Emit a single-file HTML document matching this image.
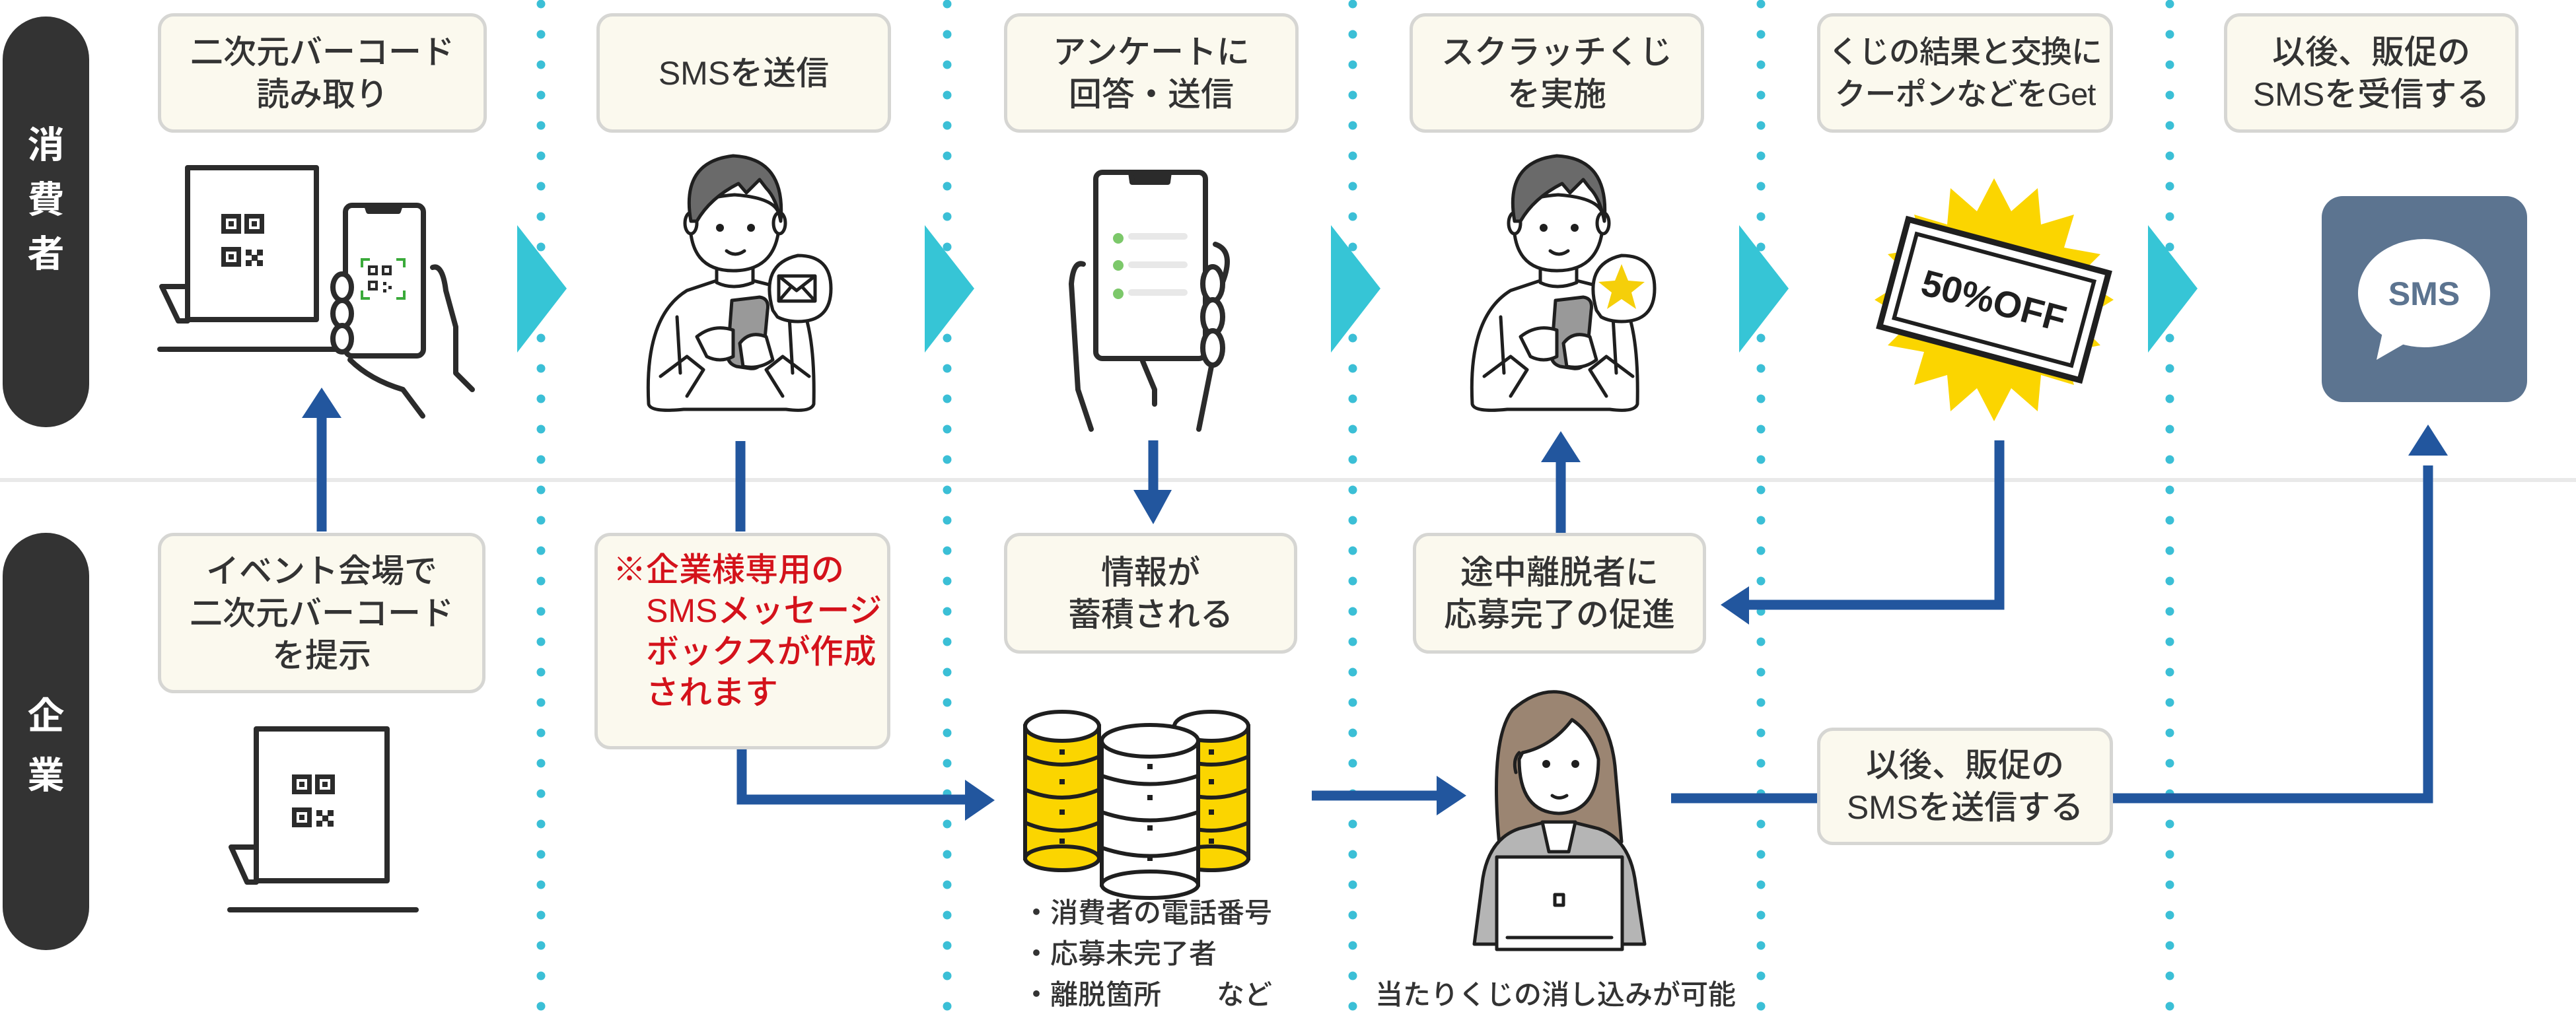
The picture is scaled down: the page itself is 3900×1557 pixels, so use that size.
<!DOCTYPE html>
<html><head><meta charset="utf-8">
<style>
html,body{margin:0;padding:0;background:#fff;}
body{width:3900px;height:1557px;position:relative;overflow:hidden;font-family:"Liberation Sans","Noto Sans CJK JP",sans-serif;}
svg{position:absolute;left:0;top:0;}
.box{position:absolute;box-sizing:border-box;background:#fbf9ee;border:5px solid #d6d6d3;border-radius:24px;display:flex;align-items:center;justify-content:center;text-align:center;font-size:50px;line-height:64px;color:#333;font-weight:500;white-space:nowrap;}
.pilltxt{position:absolute;color:#fff;font-size:56px;font-weight:700;width:131px;text-align:center;left:4px;}
.t{position:absolute;color:#333;font-size:42px;line-height:62px;font-weight:500;white-space:pre;}
</style></head><body>
<svg width="3900" height="1557" viewBox="0 0 3900 1557">
<rect x="0" y="724" width="3900" height="6" fill="#e9e9e9"/>
<g stroke="#3bbfd6" stroke-width="13" stroke-linecap="round" stroke-dasharray="0 46">
<line x1="819" y1="6" x2="819" y2="1557"/>
<line x1="1434" y1="6" x2="1434" y2="1557"/>
<line x1="2048" y1="6" x2="2048" y2="1557"/>
<line x1="2666" y1="6" x2="2666" y2="1557"/>
<line x1="3285" y1="6" x2="3285" y2="1557"/>
</g>
<g fill="#36c5d6">
<polygon points="783,341 783,534 858,437"/>
<polygon points="1400,341 1400,534 1475,437"/>
<polygon points="2015,341 2015,534 2090,437"/>
<polygon points="2633,341 2633,534 2708,437"/>
<polygon points="3252,341 3252,534 3327,437"/>
</g>
<rect x="4" y="25" width="131" height="622" rx="65" fill="#333"/>
<rect x="4" y="807" width="131" height="632" rx="65" fill="#333"/>

<g stroke="#22569e" stroke-width="15" fill="none">
<line x1="487" y1="805" x2="487" y2="625"/>
<line x1="1121" y1="668" x2="1121" y2="805"/>
<polyline points="1123,1129 1123,1211 1470,1211"/>
<line x1="1746" y1="667" x2="1746" y2="750"/>
<line x1="1986" y1="1205" x2="2185" y2="1205"/>
<line x1="2363" y1="807" x2="2363" y2="690"/>
<polyline points="3027,667 3027,916 2640,916"/>
<polyline points="2530,1209 3676,1209 3676,705"/>
</g>
<g fill="#22569e">
<polygon points="457,633 517,633 487,587"/>
<polygon points="1461,1181 1461,1243 1506,1212"/>
<polygon points="1716,742 1774,742 1746,794"/>
<polygon points="2175,1175 2175,1235 2220,1205"/>
<polygon points="2333,700 2393,700 2363,653"/>
<polygon points="2648,888 2648,946 2605,916"/>
<polygon points="3646,690 3706,690 3676,643"/>
</g>

<g stroke="#2b2b2b" stroke-width="8" fill="none" stroke-linejoin="round" stroke-linecap="round">
<rect x="284" y="254" width="195" height="230" fill="#fff"/>
<path d="M284 434 L245 434 L270 486 L284 486"/>
<line x1="242" y1="529" x2="520" y2="529"/>
</g>
<g fill="#2b2b2b">
<rect x="335" y="324" width="30" height="30"/><rect x="370" y="324" width="30" height="30"/><rect x="335" y="374" width="30" height="30"/>
<rect x="372" y="378" width="9" height="9"/><rect x="389" y="378" width="9" height="9"/><rect x="381" y="386" width="9" height="9"/><rect x="372" y="394" width="9" height="9"/><rect x="389" y="394" width="9" height="9"/>
</g>
<g fill="#fff"><rect x="342" y="331" width="16" height="16"/><rect x="377" y="331" width="16" height="16"/><rect x="342" y="381" width="16" height="16"/></g>
<g fill="#2b2b2b"><rect x="346" y="335" width="8" height="8"/><rect x="381" y="335" width="8" height="8"/><rect x="346" y="385" width="8" height="8"/></g>
<g stroke="#2b2b2b" stroke-width="8" fill="#fff" stroke-linejoin="round" stroke-linecap="round">
<rect x="523" y="311" width="118" height="228" rx="10"/>
<path d="M555 311 L558 320 L603 320 L606 311 Z" fill="#2b2b2b"/>
<path d="M655 405 Q670 400 675 440 L690 495 L690 565 L715 590" fill="none"/>
<path d="M530 545 Q560 575 610 590 L640 630" fill="none"/>
<ellipse cx="518" cy="435" rx="14" ry="20"/><ellipse cx="518" cy="475" rx="14" ry="20"/><ellipse cx="518" cy="513" rx="14" ry="20"/>
</g>
<g stroke="#3aaa3a" stroke-width="4" fill="none">
<path d="M548 405 v-12 h12 M600 393 h12 v12 M612 440 v12 h-12 M560 452 h-12 v-12"/>
</g>
<g fill="#2b2b2b"><rect x="557" y="402" width="15" height="15"/><rect x="578" y="402" width="15" height="15"/><rect x="557" y="425" width="15" height="15"/><rect x="580" y="427" width="5" height="5"/><rect x="588" y="433" width="5" height="5"/><rect x="580" y="438" width="5" height="5"/></g>
<g fill="#fff"><rect x="561" y="406" width="7" height="7"/><rect x="582" y="406" width="7" height="7"/><rect x="561" y="429" width="7" height="7"/></g>

<defs>
<g id="person">
<g stroke="#1f1f1f" stroke-width="5" stroke-linejoin="round" stroke-linecap="round">
<path d="M982 612 Q975 480 1040 440 L1085 425 L1140 425 L1200 440 Q1235 480 1232 612 Q1228 625 1190 620 L1035 620 Q985 625 982 612 Z" fill="#fff"/>
<path d="M1085 395 L1085 428 Q1110 440 1140 428 L1140 395 Z" fill="#fff"/>
<path d="M1045 330 Q1042 410 1110 410 Q1180 410 1180 330 Q1180 300 1112 295 Q1045 300 1045 330 Z" fill="#fff"/>
<ellipse cx="1046" cy="338" rx="9" ry="16" fill="#fff"/><ellipse cx="1180" cy="338" rx="9" ry="16" fill="#fff"/>
<path d="M1046 335 Q1030 245 1110 236 Q1190 240 1182 335 Q1175 300 1160 285 L1150 272 L1130 292 L1118 278 Q1075 300 1055 335 Z" fill="#6a6a6a"/>
<path d="M1100 380 Q1113 390 1127 380" fill="none"/>
<path d="M1025 480 L1030 565 M1195 480 L1200 565" fill="none"/>
<path d="M1108 455 L1150 450 Q1165 452 1162 470 L1155 545 Q1150 560 1135 558 L1115 555 Q1100 550 1102 535 Z" fill="#999"/>
<path d="M1055 510 Q1080 490 1110 500 L1110 540 Q1090 550 1070 540 Z" fill="#fff"/>
<path d="M1120 520 Q1135 500 1160 510 L1170 545 Q1150 560 1125 555 Z" fill="#fff"/>
<path d="M1000 570 L1040 540 L1065 560 L1040 600 M1225 570 L1185 540 L1160 560 L1185 600" fill="none"/>
</g>
<circle cx="1090" cy="345" r="6" fill="#1f1f1f"/><circle cx="1137" cy="345" r="6" fill="#1f1f1f"/>
</g>
</defs>
<use href="#person"/>
<use href="#person" x="1247"/>
<g stroke="#1f1f1f" stroke-width="5" fill="#fff" stroke-linejoin="round">
<path d="M1170 470 Q1150 400 1208 387 Q1258 387 1258 437 Q1258 487 1208 487 Q1190 487 1177 480 Z"/>
<rect x="1179" y="418" width="55" height="38" fill="none"/>
<path d="M1179 418 L1206 440 L1234 418 M1179 456 L1198 434 M1234 456 L1214 434" fill="none"/>
<path d="M2417 470 Q2397 400 2455 387 Q2505 387 2505 437 Q2505 487 2455 487 Q2437 487 2424 480 Z"/>
</g>
<polygon points="2455,400 2465,425 2490,427 2470,443 2477,468 2455,453 2433,468 2440,443 2420,427 2445,425" fill="#f5cf0a"/>

<g stroke="#2b2b2b" stroke-width="8" fill="#fff" stroke-linejoin="round" stroke-linecap="round">
<path d="M1640 400 Q1625 395 1622 430 L1632 590 L1652 650" fill="none"/>
<path d="M1836 545 L1820 625 L1815 650 M1730 547 L1748 590 L1748 612" fill="none"/>
<rect x="1659" y="261" width="166" height="282" rx="10"/>
<path d="M1712 261 L1714 276 L1768 276 L1770 261 Z" fill="#2b2b2b"/>
<path d="M1840 370 Q1870 380 1850 430" fill="none"/>
<ellipse cx="1836" cy="430" rx="15" ry="26"/><ellipse cx="1836" cy="480" rx="15" ry="26"/><ellipse cx="1836" cy="527" rx="15" ry="26"/>
</g>
<g fill="#7cc86a"><circle cx="1693" cy="361" r="8"/><circle cx="1693" cy="402" r="8"/><circle cx="1693" cy="445" r="8"/></g>
<g fill="#e8e8e8"><rect x="1708" y="353" width="90" height="10" rx="5"/><rect x="1708" y="396" width="90" height="10" rx="5"/><rect x="1708" y="438" width="90" height="10" rx="5"/></g>

<polygon fill="#fbd500" points="3019,270 3045,320 3085,285 3090,340 3140,325 3125,375 3180,385 3145,420 3200,454 3145,488 3180,523 3125,533 3140,583 3090,568 3085,623 3045,588 3019,638 2993,588 2953,623 2948,568 2898,583 2913,533 2858,523 2893,488 2838,454 2893,420 2858,385 2913,375 2898,325 2948,340 2953,285 2993,320"/>
<g transform="rotate(15 3019 454)">
<rect x="2862" y="370" width="314" height="168" fill="#fff" stroke="#1f1f1f" stroke-width="9"/>
<rect x="2880" y="388" width="278" height="132" fill="none" stroke="#1f1f1f" stroke-width="6"/>
<text x="3019" y="475" text-anchor="middle" font-size="56" font-weight="700" fill="#1f1f1f" font-family="Liberation Sans,sans-serif">50%OFF</text>
</g>

<rect x="3515" y="297" width="311" height="312" rx="32" fill="#5c7490"/>
<ellipse cx="3670" cy="444" rx="100" ry="82" fill="#fff"/>
<polygon points="3610,490 3598,545 3650,515" fill="#fff"/>
<text x="3670" y="462" text-anchor="middle" font-size="50" font-weight="700" fill="#5c7490" font-family="Liberation Sans,sans-serif">SMS</text>

<g stroke="#2b2b2b" stroke-width="8" fill="none" stroke-linejoin="round" stroke-linecap="round">
<rect x="388" y="1104" width="198" height="230" fill="#fff"/>
<path d="M388 1283 L350 1283 L374 1336 L388 1336"/>
<line x1="348" y1="1378" x2="630" y2="1378"/>
</g>
<g fill="#2b2b2b">
<rect x="442" y="1173" width="30" height="30"/><rect x="477" y="1173" width="30" height="30"/><rect x="442" y="1223" width="30" height="30"/>
<rect x="479" y="1227" width="9" height="9"/><rect x="496" y="1227" width="9" height="9"/><rect x="488" y="1235" width="9" height="9"/><rect x="479" y="1243" width="9" height="9"/><rect x="496" y="1243" width="9" height="9"/>
</g>
<g fill="#fff"><rect x="449" y="1180" width="16" height="16"/><rect x="484" y="1180" width="16" height="16"/><rect x="449" y="1230" width="16" height="16"/></g>
<g fill="#2b2b2b"><rect x="453" y="1184" width="8" height="8"/><rect x="488" y="1184" width="8" height="8"/><rect x="453" y="1234" width="8" height="8"/></g>

<g stroke="#1f1f1f" stroke-width="6">
<g id="cylY">
<rect x="1552" y="1100" width="112" height="200" fill="#fbd500"/>
<ellipse cx="1608" cy="1300" rx="56" ry="18" fill="#fbd500"/>
<path d="M1552 1146 Q1608 1170 1664 1146 M1552 1196 Q1608 1220 1664 1196 M1552 1246 Q1608 1270 1664 1246" fill="none"/>
<ellipse cx="1608" cy="1100" rx="56" ry="22" fill="#fff"/>
</g>
<use href="#cylY" x="226"/>
<rect x="1668" y="1122" width="146" height="218" fill="#fff"/>
<ellipse cx="1741" cy="1340" rx="73" ry="20" fill="#fff"/>
<path d="M1668 1175 Q1741 1200 1814 1175 M1668 1230 Q1741 1255 1814 1230 M1668 1284 Q1741 1309 1814 1284" fill="none"/>
<ellipse cx="1741" cy="1122" rx="73" ry="24" fill="#fff"/>
</g>
<g fill="#1f1f1f">
<rect x="1604" y="1135" width="8" height="8"/><rect x="1604" y="1180" width="8" height="8"/><rect x="1604" y="1226" width="8" height="8"/><rect x="1604" y="1270" width="8" height="8"/>
<rect x="1830" y="1135" width="8" height="8"/><rect x="1830" y="1180" width="8" height="8"/><rect x="1830" y="1226" width="8" height="8"/><rect x="1830" y="1270" width="8" height="8"/>
<rect x="1737" y="1157" width="8" height="8"/><rect x="1737" y="1204" width="8" height="8"/><rect x="1737" y="1250" width="8" height="8"/><rect x="1737" y="1296" width="8" height="8"/>
</g>

<g stroke="#1f1f1f" stroke-width="5" stroke-linejoin="round" stroke-linecap="round">
<path d="M2270 1280 Q2255 1120 2290 1075 Q2330 1040 2370 1050 Q2435 1070 2445 1160 L2455 1275 Z" fill="#9b8572"/>
<path d="M2232 1430 L2245 1330 Q2255 1270 2300 1255 L2340 1245 L2380 1245 L2420 1255 Q2465 1270 2475 1330 L2490 1430 Z" fill="#b5b5b5"/>
<path d="M2335 1245 L2345 1290 L2375 1290 L2385 1245 Z" fill="#fff"/>
<path d="M2300 1150 Q2300 1230 2360 1232 Q2420 1230 2420 1150 Q2410 1110 2380 1090 Q2350 1130 2305 1140 Z" fill="#fff"/>
<path d="M2295 1170 Q2290 1150 2300 1140" fill="none"/>
<path d="M2350 1205 Q2360 1212 2372 1205" fill="none"/>
<rect x="2266" y="1298" width="190" height="140" fill="#fff"/>
<rect x="2354" y="1355" width="13" height="16" fill="#fff"/>
<line x1="2282" y1="1420" x2="2440" y2="1420"/>
</g>
<circle cx="2341" cy="1157" r="6" fill="#1f1f1f"/><circle cx="2385" cy="1157" r="6" fill="#1f1f1f"/>
</svg>

<div class="pilltxt" style="top:175px">消</div>
<div class="pilltxt" style="top:258px">費</div>
<div class="pilltxt" style="top:340px">者</div>
<div class="pilltxt" style="top:1040px">企</div>
<div class="pilltxt" style="top:1130px">業</div>

<div class="box" style="left:239px;top:20px;width:498px;height:181px">二次元バーコード<br>読み取り</div>
<div class="box" style="left:903px;top:20px;width:446px;height:181px">SMSを送信</div>
<div class="box" style="left:1520px;top:20px;width:446px;height:181px">アンケートに<br>回答・送信</div>
<div class="box" style="left:2134px;top:20px;width:446px;height:181px">スクラッチくじ<br>を実施</div>
<div class="box" style="left:2751px;top:20px;width:448px;height:181px;font-size:47px;letter-spacing:-1px">くじの結果と交換に<br>クーポンなどをGet</div>
<div class="box" style="left:3367px;top:20px;width:446px;height:181px">以後、販促の<br>SMSを受信する</div>

<div class="box" style="left:239px;top:807px;width:496px;height:243px">イベント会場で<br>二次元バーコード<br>を提示</div>
<div class="box" style="left:900px;top:807px;width:448px;height:328px;justify-content:flex-start;align-items:flex-start;text-align:left;color:#d4121b;padding:20px 0 0 23px;line-height:62px">※企業様専用の<br>&#12288;SMSメッセージ<br>&#12288;ボックスが作成<br>&#12288;されます</div>
<div class="box" style="left:1520px;top:807px;width:444px;height:183px">情報が<br>蓄積される</div>
<div class="box" style="left:2139px;top:807px;width:444px;height:183px">途中離脱者に<br>応募完了の促進</div>
<div class="box" style="left:2751px;top:1102px;width:448px;height:178px">以後、販促の<br>SMSを送信する</div>

<div class="t" style="left:1548px;top:1352px">・消費者の電話番号<br>・応募未完了者<br>・離脱箇所　　など</div>
<div class="t" style="left:2080px;top:1476px;width:550px;text-align:center">当たりくじの消し込みが可能</div>
</body></html>
